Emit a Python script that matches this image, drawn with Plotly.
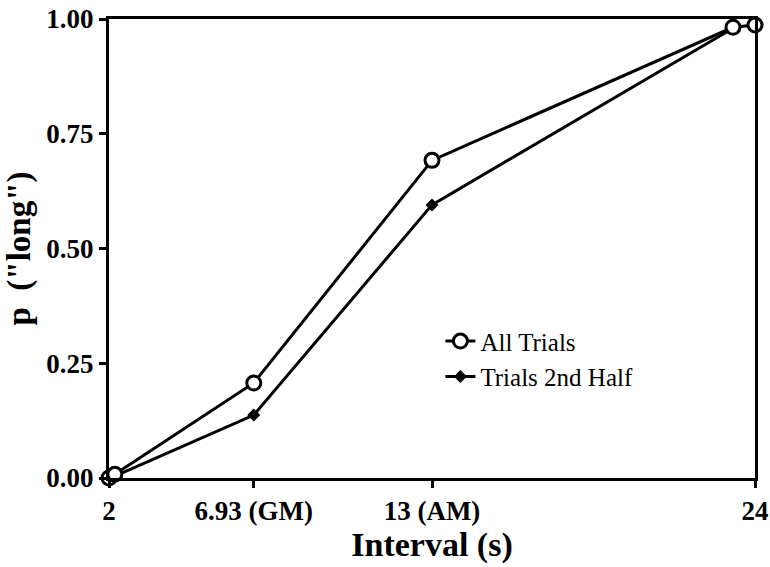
import plotly.graph_objects as go

# Interval durations (s) and proportion of "long" responses
x_all = [2, 2.2, 6.93, 13, 23.25, 24]
p_all = [0.0, 0.008, 0.207, 0.692, 0.982, 0.987]

x_half = [2.2, 6.93, 13, 23.25]
p_half = [0.004, 0.137, 0.595, 0.98]

tick_vals = [2, 6.93, 13, 24]
tick_text = ["2", "6.93 (GM)", "13 (AM)", "24"]
y_tick_vals = [0, 0.25, 0.5, 0.75, 1.0]
y_tick_text = ["0.00", "0.25", "0.50", "0.75", "1.00"]

SERIF = "Liberation Serif, Times New Roman, serif"

fig = go.Figure()
fig.add_trace(go.Scatter(
    x=x_half, y=p_half, mode="lines+markers", name="Trials 2nd Half",
    line=dict(color="black", width=3),
    marker=dict(symbol="diamond", size=10, color="black"),
    cliponaxis=False,
))
fig.add_trace(go.Scatter(
    x=x_all, y=p_all, mode="lines+markers", name="All Trials",
    line=dict(color="black", width=3),
    marker=dict(symbol="circle", size=14, color="white",
                line=dict(color="black", width=3)),
    cliponaxis=False,
))

fig.update_layout(
    width=770, height=567,
    margin=dict(l=109, r=15, t=19, b=89),
    paper_bgcolor="white", plot_bgcolor="white",
    font=dict(family=SERIF, color="black"),
    showlegend=True,
    legend=dict(x=0.513, y=0.348, xanchor="left", yanchor="top",
                traceorder="reversed", font=dict(size=25, family=SERIF),
                bgcolor="rgba(0,0,0,0)", itemwidth=30),
    xaxis=dict(
        range=[2, 24], tickvals=tick_vals, ticktext=tick_text,
        automargin=False,
        showgrid=False, zeroline=False,
        showline=True, linecolor="black", linewidth=3, mirror=True,
        ticks="outside", ticklen=7, tickwidth=2.5, tickcolor="black",
        tickfont=dict(size=27, family=SERIF, weight="bold"),
        title=dict(text="<b>Interval (s)</b>", font=dict(size=34, family=SERIF),
                   standoff=6),
    ),
    yaxis=dict(
        range=[0, 1.0], tickvals=y_tick_vals, ticktext=y_tick_text,
        automargin=False,
        showgrid=False, zeroline=False,
        showline=True, linecolor="black", linewidth=3, mirror=True,
        ticks="outside", ticklen=7, tickwidth=2.5, tickcolor="black",
        tickfont=dict(size=27, family=SERIF, weight="bold"),
        title=dict(text="<b>p  (\"long\")</b>", font=dict(size=33, family=SERIF),
                   standoff=6),
    ),
)

fig.write_html("out.html")
